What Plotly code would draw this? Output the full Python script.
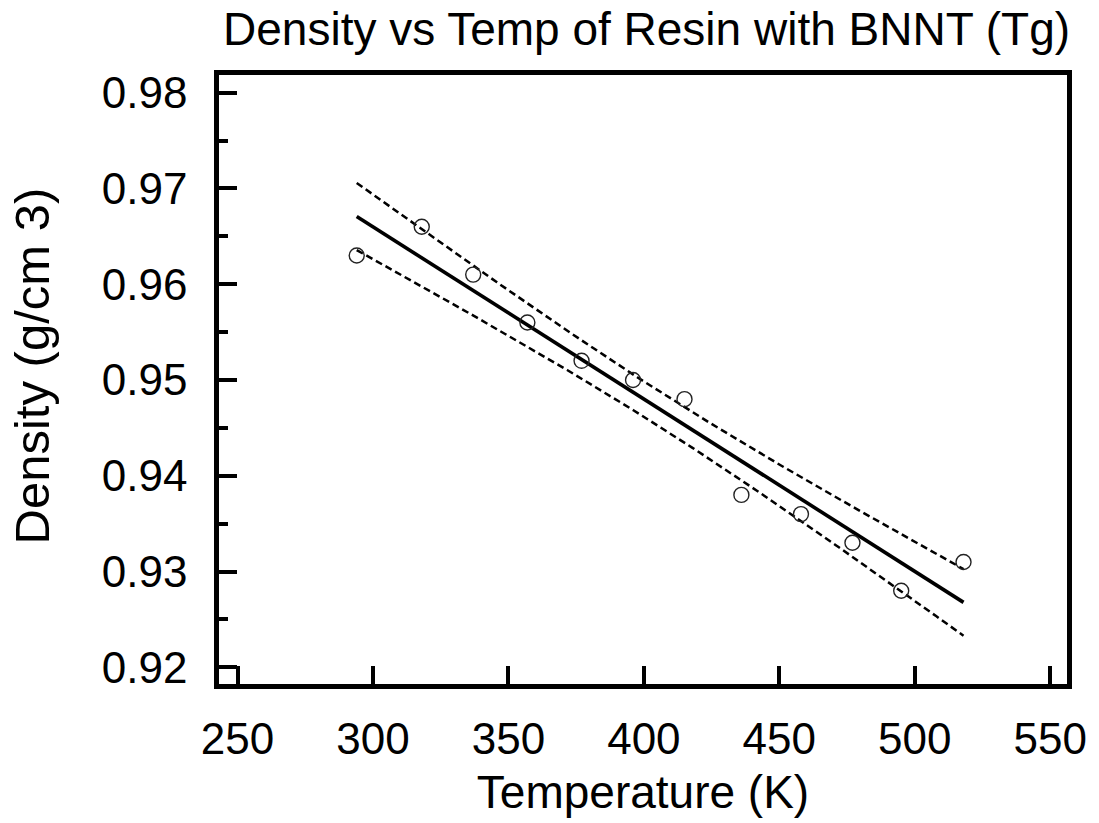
import numpy as np
import plotly.graph_objects as go

# Data
temperature_K = [294, 318, 337, 357, 377, 396, 415, 436, 458, 477, 495, 518]
density_gcm3 = [0.963, 0.966, 0.961, 0.956, 0.952, 0.950, 0.948, 0.938, 0.936, 0.933, 0.928, 0.931]

x_ticks = [250, 300, 350, 400, 450, 500, 550]
y_ticks = [0.92, 0.93, 0.94, 0.95, 0.96, 0.97, 0.98]

# Linear fit with 95% confidence band (derived from the data)
x = np.array(temperature_K, dtype=float)
y = np.array(density_gcm3, dtype=float)
n = len(x)
slope, intercept = np.polyfit(x, y, 1)
resid = y - (slope * x + intercept)
s = np.sqrt(np.sum(resid ** 2) / (n - 2))
t_val = 2.228  # t(0.975, df=10)
xm = x.mean()
sxx = np.sum((x - xm) ** 2)
xf = np.linspace(x.min(), x.max(), 200)
yf = slope * xf + intercept
se = s * np.sqrt(1.0 / n + (xf - xm) ** 2 / sxx)
upper = yf + t_val * se
lower = yf - t_val * se

FONT = "Liberation Sans, Arial, sans-serif"

fig = go.Figure()
for band in (upper, lower):
    fig.add_trace(go.Scatter(x=xf, y=band, mode="lines",
                             line=dict(color="black", width=2.5, dash="7px,4px"),
                             showlegend=False, hoverinfo="skip"))
fig.add_trace(go.Scatter(x=xf, y=yf, mode="lines",
                         line=dict(color="black", width=3.6),
                         showlegend=False))
fig.add_trace(go.Scatter(x=temperature_K, y=density_gcm3, mode="markers",
                         marker=dict(symbol="circle-open", size=15, color="#222",
                                     line=dict(width=1.4, color="#222")),
                         showlegend=False))

fig.update_layout(
    width=1099, height=823,
    paper_bgcolor="white", plot_bgcolor="white",
    margin=dict(l=219, r=24, t=75, b=136),
    font=dict(family=FONT, color="black"),
    title=dict(text="Density vs Temp of Resin with BNNT (Tg)",
               font=dict(family=FONT, size=46, color="black"),
               x=0.5883, xanchor="center", y=1 - 29 / 823, yanchor="middle",
               xref="container", yref="container"),
    annotations=[dict(text="Density (g/cm 3)", textangle=-90,
                      xref="paper", yref="paper", x=(30 - 219) / 856, y=0.5227,
                      xanchor="center", yanchor="middle", showarrow=False,
                      font=dict(family=FONT, size=49, color="black"))],
)
fig.update_xaxes(
    range=[243.16, 556.2], tickvals=x_ticks, ticktext=[str(v) for v in x_ticks],
    ticks="inside", ticklen=18, tickwidth=3.6, tickcolor="black",
    showline=True, linewidth=4.5, linecolor="black", mirror=True,
    showgrid=False, zeroline=False,
    tickfont=dict(family=FONT, size=44, color="black"),
    ticklabelstandoff=12,
    title=dict(text="Temperature (K)", font=dict(family=FONT, size=46, color="black"), standoff=16),
)
fig.update_yaxes(
    range=[0.91826, 0.98184], tickvals=y_ticks, ticktext=[f"{v:.2f}" for v in y_ticks],
    ticks="inside", ticklen=18, tickwidth=3.6, tickcolor="black",
    minor=dict(dtick=0.005, ticks="inside", ticklen=9, tickwidth=3.6, tickcolor="black", showgrid=False),
    showline=True, linewidth=4.5, linecolor="black", mirror=True,
    showgrid=False, zeroline=False,
    tickfont=dict(family=FONT, size=44, color="black"),
    ticklabelstandoff=18,
)

fig.write_html("out.html")
